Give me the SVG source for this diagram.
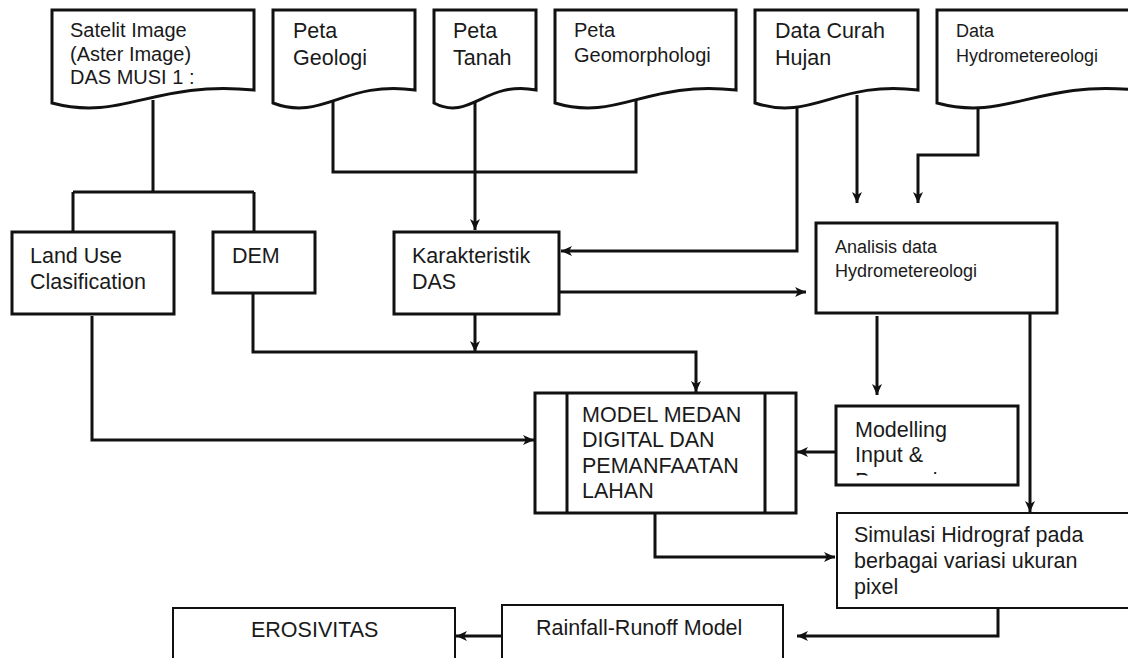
<svg xmlns="http://www.w3.org/2000/svg" width="1128" height="658" viewBox="0 0 1128 658">
<style>
  .bg{fill:#ffffff}
  .node{fill:#ffffff;stroke:#111;stroke-width:3}
  .thin{fill:#ffffff;stroke:#111;stroke-width:2}
  .edge{fill:none;stroke:#111;stroke-width:3}
  text{font-family:"Liberation Sans",Arial,sans-serif;fill:#1a1a1a}
  .t18{font-size:18px}
  .t20{font-size:20px}
  .t22{font-size:21.5px}
</style>
<defs>
  <marker id="arr" markerUnits="userSpaceOnUse" markerWidth="12" markerHeight="12" refX="11" refY="6" orient="auto">
    <path d="M0,1 L11,6 L0,11 L3,6 Z" fill="#111"/>
  </marker>
  <clipPath id="clipMod"><rect x="836" y="406" width="182" height="69.5"/></clipPath>
</defs>
<rect class="bg" width="1128" height="658"/>

<g id="connectors">
  <!-- Satelit to Land Use / DEM -->
  <path class="edge" d="M153,100 V192 M73,192 H254 M73,192 V232 M254,192 V232"/>
  <!-- Geologi + Geomorph join -->
  <path class="edge" d="M333,100 V172 H636 V100"/>
  <!-- Peta Tanah to Karakteristik -->
  <path class="edge" d="M475,100 V230" marker-end="url(#arr)"/>
  <!-- Data Curah Hujan to Karakteristik -->
  <path class="edge" d="M797,100 V251 H561" marker-end="url(#arr)"/>
  <!-- Data Curah Hujan to Analisis -->
  <path class="edge" d="M857,95 V203" marker-end="url(#arr)"/>
  <!-- Data Hydro to Analisis -->
  <path class="edge" d="M978,100 V155 H918 V203" marker-end="url(#arr)"/>
  <!-- Karakteristik to Analisis -->
  <path class="edge" d="M559,292 H806" marker-end="url(#arr)"/>
  <!-- Karakteristik down -->
  <path class="edge" d="M475,312 V352" marker-end="url(#arr)"/>
  <!-- DEM to MODEL -->
  <path class="edge" d="M253,292 V352 H696 V392" marker-end="url(#arr)"/>
  <!-- Land Use to MODEL -->
  <path class="edge" d="M92,316 V440 H534" marker-end="url(#arr)"/>
  <!-- Analisis to Modelling -->
  <path class="edge" d="M877,316 V395" marker-end="url(#arr)"/>
  <!-- Analisis to Simulasi -->
  <path class="edge" d="M1030,312 V512" marker-end="url(#arr)"/>
  <!-- Modelling to MODEL -->
  <path class="edge" d="M836,452 H797" marker-end="url(#arr)"/>
  <!-- MODEL to Simulasi -->
  <path class="edge" d="M655,513 V557 H835" marker-end="url(#arr)"/>
  <!-- Simulasi to Rainfall -->
  <path class="edge" d="M998,608 V636 H797" marker-end="url(#arr)"/>
  <!-- Rainfall to Erosivitas -->
  <path class="edge" d="M502,636 H456" marker-end="url(#arr)"/>
</g>

<g id="satelit">
  <path class="node" d="M52,10 H254 V90 C153,80 123,122 52,103 Z"/>
  <text class="t20" x="70" y="37">Satelit Image</text>
  <text class="t20" x="70" y="61">(Aster Image)</text>
  <text class="t20" x="70" y="84">DAS MUSI 1 :</text>
</g>
<g id="peta-geologi">
  <path class="node" d="M273,10 H415 V90 C344,80 323,122 273,103 Z"/>
  <text class="t22" x="293" y="38">Peta</text>
  <text class="t22" x="293" y="65">Geologi</text>
</g>
<g id="peta-tanah">
  <path class="node" d="M434,10 H536 V90 C485,80 470,122 434,103 Z"/>
  <text class="t22" x="453" y="38">Peta</text>
  <text class="t22" x="453" y="65">Tanah</text>
</g>
<g id="peta-geomorphologi">
  <path class="node" d="M555,10 H736 V90 C646,80 618,122 555,103 Z"/>
  <text class="t20" x="574" y="37">Peta</text>
  <text class="t20" x="574" y="62">Geomorphologi</text>
</g>
<g id="data-curah-hujan">
  <path class="node" d="M755,10 H918 V90 C837,80 812,122 755,103 Z"/>
  <text class="t22" x="775" y="38">Data Curah</text>
  <text class="t22" x="775" y="65">Hujan</text>
</g>
<g id="data-hydro">
  <path class="node" d="M937,10 H1136 V90 C1036,80 1007,122 937,103 Z"/>
  <text class="t18" x="956" y="37">Data</text>
  <text class="t18" x="956" y="62">Hydrometereologi</text>
</g>

<g id="land-use">
  <rect class="node" x="12" y="232" width="162" height="82"/>
  <text class="t22" x="30" y="263">Land Use</text>
  <text class="t22" x="30" y="289">Clasification</text>
</g>
<g id="dem">
  <rect class="node" x="213" y="232" width="102" height="61"/>
  <text class="t22" x="232" y="263">DEM</text>
</g>
<g id="karakteristik">
  <rect class="node" x="394" y="232" width="165" height="82"/>
  <text class="t22" x="412" y="263">Karakteristik</text>
  <text class="t22" x="412" y="289">DAS</text>
</g>
<g id="analisis">
  <rect class="node" x="816" y="223" width="241" height="90"/>
  <text class="t18" x="835" y="253">Analisis data</text>
  <text class="t18" x="835" y="277">Hydrometereologi</text>
</g>

<g id="model-medan">
  <rect class="node" x="535" y="393" width="261" height="120"/>
  <path class="edge" d="M567,393 V513 M765,393 V513"/>
  <text class="t22" x="582" y="422">MODEL MEDAN</text>
  <text class="t22" x="582" y="447">DIGITAL DAN</text>
  <text class="t22" x="582" y="473">PEMANFAATAN</text>
  <text class="t22" x="582" y="498">LAHAN</text>
</g>
<g id="modelling">
  <rect class="node" x="836" y="406" width="182" height="79"/>
  <g clip-path="url(#clipMod)">
    <text class="t22" x="855" y="437">Modelling</text>
    <text class="t22" x="855" y="462">Input &amp;</text>
    <text class="t22" x="855" y="488">Processing</text>
  </g>
</g>
<g id="simulasi">
  <rect class="thin" x="837" y="513" width="300" height="95"/>
  <text class="t22" x="854" y="542">Simulasi Hidrograf pada</text>
  <text class="t22" x="854" y="568">berbagai variasi ukuran</text>
  <text class="t22" x="854" y="594">pixel</text>
</g>
<g id="rainfall-runoff">
  <rect class="thin" x="502" y="605" width="281" height="60"/>
  <text class="t22" x="536" y="635">Rainfall-Runoff Model</text>
</g>
<g id="erosivitas">
  <rect class="thin" x="173" y="608" width="282" height="60"/>
  <text class="t22" x="251" y="637">EROSIVITAS</text>
</g>
</svg>
